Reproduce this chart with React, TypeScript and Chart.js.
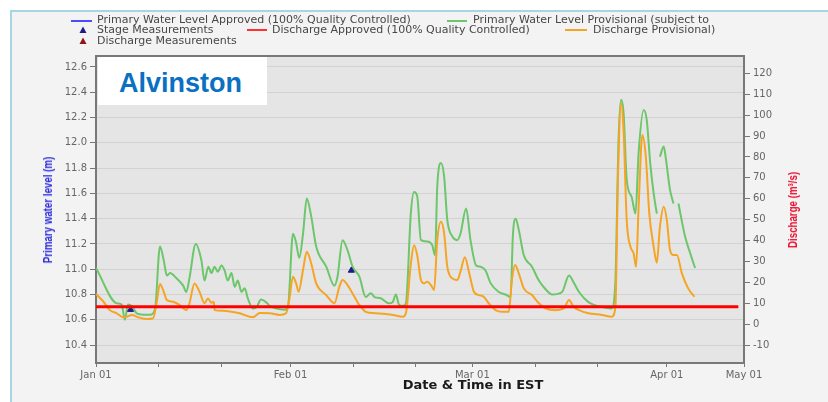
import React, { useEffect, useRef } from "react";
import { Chart, registerables } from "chart.js";

Chart.register(...registerables);

// Days since Jan 01 (leap year) and primary water level (m)
const levelDays = [
  0, 3.3, 4.1, 4.6, 5.1, 5.7, 6.5, 7.5, 8.6, 9.4, 10.2, 10.8, 11.3, 11.8, 12.8, 13.9, 14.4, 14.9, 15.9, 16.8,
  17.3, 17.9, 18.4, 18.9, 19.4, 20.0, 20.5, 21.0, 21.6, 22.1, 22.6, 23.2, 23.7, 24.2, 25.0, 25.6, 26.3, 27.1,
  27.7, 28.7, 30.1, 30.6, 31.4, 31.9, 32.4, 33.0, 33.6, 34.3, 35.1, 36.7, 38.0, 38.5, 39.3, 40.1, 40.9, 42.0,
  43.0, 43.8, 44.4, 45.4, 46.7, 47.3, 47.8, 48.3, 48.9, 49.4, 50.2, 50.7, 51.2, 51.8, 52.8, 53.6, 54.05, 54.4,
  55.0, 55.5, 56.0, 56.8, 57.6, 58.1, 59.0, 59.7, 60.6, 61.3, 62.1, 62.9, 64.2, 65.3, 66.1, 66.45, 66.9, 67.4,
  68.2, 69.5, 70.6, 71.7, 72.7, 74.3, 75.4, 76.2, 77.0, 78.5, 80.7, 82.2, 82.8, 83.3, 83.7, 84.1, 84.6, 85.4,
  86.0, 86.5, 87.3, 87.8, 88.35, 88.9, 89.4, 89.7, 89.9, 90.5, 90.8, 91.5, 92.05, 92.4, 92.85, 93.9, 94.7, 95.5,
];
const levelValues = [
  11.01, 10.73, 10.72, 10.6, 10.72, 10.71, 10.65, 10.64, 10.64, 10.68, 11.18, 11.07, 10.95, 10.97, 10.93, 10.87, 10.82, 10.93, 11.2, 11.07,
  10.91, 11.02, 10.97, 11.02, 10.98, 11.03, 10.99, 10.91, 10.97, 10.86, 10.91, 10.82, 10.85, 10.77, 10.69, 10.7, 10.76, 10.74,
  10.71, 10.69, 10.68, 10.7, 11.28, 11.21, 11.09, 11.28, 11.56, 11.42, 11.18, 11.02, 10.87, 10.94, 11.23, 11.15, 11.02, 10.94,
  10.78, 10.81, 10.78, 10.77, 10.73, 10.74, 10.8, 10.72, 10.71, 10.73, 11.45, 11.61, 11.58, 11.23, 11.22, 11.19, 11.11, 11.65,
  11.84, 11.73, 11.39, 11.26, 11.23, 11.28, 11.48, 11.23, 11.03, 11.02, 10.99, 10.89, 10.82, 10.8, 10.78, 11.26, 11.4, 11.31,
  11.11, 11.02, 10.91, 10.84, 10.8, 10.82, 10.95, 10.89, 10.82, 10.74, 10.7, 10.69, 10.91, 12.02, 12.34, 12.24, 11.71, 11.57,
  11.44, 11.92, 12.26, 12.18, 11.84, 11.6, 11.44, null, 11.89, 11.97, 11.89, 11.63, 11.52, null, 11.52, 11.26, 11.13, 11.01,
];

// Days since Jan 01 and discharge (m³/s)
const flowDays = [
  0, 1.2, 2.2, 3.3, 4.3, 4.9, 5.7, 6.7, 8.1, 9.1, 9.65, 10.2, 10.8, 11.3, 12.3, 13.35, 14.4, 14.9, 15.7, 16.5,
  17.3, 17.85, 18.4, 18.76, 18.92, 20.2, 22.9, 25.0, 26.1, 27.7, 29.25, 30.3, 30.8, 31.4, 31.9, 32.3, 33.0, 33.6,
  34.3, 35.1, 36.7, 38.0, 38.8, 39.3, 40.1, 40.9, 42.0, 43.0, 44.6, 47.3, 48.9, 49.4, 50.2, 50.7, 51.2, 51.8,
  52.3, 52.8, 53.4, 53.9, 54.4, 55.0, 55.5, 56.0, 56.8, 57.6, 58.1, 58.8, 59.5, 60.25, 61.05, 61.8, 62.6, 63.7,
  64.75, 65.8, 66.3, 66.8, 67.4, 68.2, 69.5, 70.6, 71.65, 73.2, 74.6, 75.4, 76.15, 77.0, 78.5, 80.65, 82.2, 82.8,
  83.2, 83.7, 84.1, 84.6, 85.2, 85.7, 86.1, 86.5, 87.1, 87.65, 88.2, 88.9, 89.4, 89.9, 90.5, 91.0, 91.5, 92.05,
  92.6, 93.4, 94.4, 95.4,
];
const flowValues = [
  14.4, 10.7, 6.7, 5.2, 3.3, 3.5, 4.4, 3.3, 2.4, 2.8, 10.0, 19.2, 15.5, 11.5, 10.7, 9.1, 6.7, 10.0, 19.5, 15.5,
  10.0, 12.3, 10.2, 10.7, 6.7, 6.4, 5.2, 3.3, 5.3, 5.2, 4.4, 5.2, 11.5, 22.7, 19.5, 15.5, 25.9, 34.6,
  29.1, 19.5, 13.9, 10.0, 17.9, 21.1, 18.7, 14.7, 9.1, 5.9, 5.2, 4.4, 3.5, 5.2, 29.1, 37.8, 33.1, 21.1,
  19.5, 20.3, 18.7, 16.3, 40.2, 49.0, 43.4, 27.5, 21.9, 21.1, 25.1, 32.0, 24.3, 15.5, 13.9, 13.1, 10.0, 6.7,
  5.9, 5.9, 21.1, 28.3, 24.3, 17.1, 13.9, 10.0, 7.6, 6.7, 7.6, 11.5, 8.3, 6.7, 5.2, 4.4, 3.5, 8.3,
  68.9, 105.6, 92.9, 49.8, 37.0, 33.9, 27.5, 56.2, 90.5, 80.1, 53.0, 37.0, 29.4, 46.6, 56.2, 49.8, 35.5, 33.1,
  33.1, 24.3, 17.1, 13.1,
];

// Stage measurements (water level, m)
const stageDays = [5.5, 40.7];
const stageValues = [10.68, 10.99];

// Red reference line (discharge, m³/s)
const thresholdDays = [0, 102.4];
const thresholdValues = [8.3, 8.3];

const levelTicks = [10.4, 10.6, 10.8, 11.0, 11.2, 11.4, 11.6, 11.8, 12.0, 12.2, 12.4, 12.6];
const flowTicks = [-10, 0, 10, 20, 30, 40, 50, 60, 70, 80, 90, 100, 110, 120];
const dateTickDays = [0, 10, 20, 31, 41, 51, 60, 70, 80, 91, 103.3];
const dateTickLabels = ["Jan 01", "", "", "Feb 01", "", "", "Mar 01", "", "", "Apr 01", "May 01"];

const legendRow1 = ["Primary Water Level Approved (100% Quality Controlled)", "Primary Water Level Provisional (subject to"];
const legendRow2 = ["Stage Measurements", "Discharge Approved (100% Quality Controlled)", "Discharge Provisional)"];
const legendRow3 = ["Discharge Measurements"];

const GREEN = "#6cc66a";
const ORANGE = "#f6a423";
const TICK_FONT = { family: "'DejaVu Sans', sans-serif", size: 10 };

const plotFrame = {
  id: "plotFrame",
  beforeDraw(chart: any) {
    const { ctx, chartArea: a } = chart;
    ctx.save();
    ctx.fillStyle = "#e5e5e5";
    ctx.fillRect(a.left, a.top, a.right - a.left, a.bottom - a.top);
    ctx.restore();
  },
  beforeDatasetsDraw(chart: any) {
    const { ctx, chartArea: a } = chart;
    ctx.save();
    ctx.strokeStyle = "#787878";
    ctx.lineWidth = 2;
    ctx.strokeRect(a.left, a.top, a.right - a.left, a.bottom - a.top);
    ctx.restore();
  },
};

function Tri({ x, y, color }: { x: number; y: number; color: string }) {
  return (
    <svg style={{ position: "absolute", left: x - 4, top: y - 4 }} width={8} height={8}>
      <polygon points="4,0.5 7.5,7 0.5,7" fill={color} />
    </svg>
  );
}

function LegLine({ x, y, w, color }: { x: number; y: number; w: number; color: string }) {
  return <div style={{ position: "absolute", left: x, top: y - 1, width: w, height: 2, background: color }} />;
}

function LegText({ x, y, text }: { x: number; y: number; text: string }) {
  return (
    <div
      style={{
        position: "absolute",
        left: x,
        top: y - 6,
        lineHeight: "12px",
        fontFamily: "'DejaVu Sans', sans-serif",
        fontSize: 11,
        color: "#474747",
        whiteSpace: "nowrap",
      }}
    >
      {text}
    </div>
  );
}

const axisTitleStyle = (cx: number, color: string): React.CSSProperties => ({
  position: "absolute",
  left: cx,
  top: 210,
  transform: "translate(-50%, -50%) rotate(-90deg) scaleX(0.81)",
  fontFamily: "'Liberation Sans', Arial, sans-serif",
  fontWeight: "bold",
  fontSize: 12,
  color,
  whiteSpace: "nowrap",
});

export default function App() {
  const ref = useRef<HTMLCanvasElement | null>(null);

  useEffect(() => {
    if (!ref.current) return;
    const chart = new Chart(ref.current, {
      type: "line",
      data: {
        datasets: [
          {
            label: "Reference",
            data: thresholdDays.map((d, i) => ({ x: d, y: thresholdValues[i] })),
            yAxisID: "y2",
            borderColor: "#ff0000",
            borderWidth: 3,
            pointRadius: 0,
            order: 0,
          },
          {
            label: "Stage Measurements",
            data: stageDays.map((d, i) => ({ x: d, y: stageValues[i] })),
            yAxisID: "y",
            showLine: false,
            pointStyle: "triangle",
            pointRadius: 3.5,
            backgroundColor: "#1c1c8a",
            borderColor: "#1c1c8a",
            order: 1,
          },
          {
            label: "Discharge Provisional",
            data: flowDays.map((d, i) => ({ x: d, y: flowValues[i] })),
            yAxisID: "y2",
            borderColor: ORANGE,
            borderWidth: 2,
            pointRadius: 0,
            cubicInterpolationMode: "monotone",
            order: 2,
          },
          {
            label: "Primary Water Level Provisional",
            data: levelDays.map((d, i) => ({ x: d, y: levelValues[i] as any })),
            yAxisID: "y",
            borderColor: GREEN,
            borderWidth: 2,
            pointRadius: 0,
            spanGaps: false,
            cubicInterpolationMode: "monotone",
            order: 3,
          },
        ],
      },
      options: {
        animation: false,
        responsive: false,
        devicePixelRatio: 1,
        layout: { padding: { top: 56, left: 0, right: 0, bottom: 0 } },
        plugins: { legend: { display: false }, tooltip: { enabled: false }, title: { display: false } },
        scales: {
          x: {
            type: "linear",
            min: 0,
            max: 103.3,
            afterBuildTicks: (s: any) => {
              s.ticks = dateTickDays.map((v) => ({ value: v }));
            },
            afterFit: (s: any) => {
              s.height = 39;
            },
            grid: { drawOnChartArea: false, drawTicks: true, tickLength: 4, tickColor: "#777" },
            border: { display: false },
            ticks: {
              autoSkip: false,
              maxRotation: 0,
              padding: 2,
              color: "#666",
              font: TICK_FONT,
              callback: (_v: any, i: number) => dateTickLabels[i],
            },
          },
          y: {
            type: "linear",
            position: "left",
            min: 10.258,
            max: 12.687,
            afterBuildTicks: (s: any) => {
              s.ticks = levelTicks.map((v) => ({ value: v }));
            },
            afterFit: (s: any) => {
              s.width = 96;
            },
            grid: { color: "#d2d2d2", lineWidth: 1, tickColor: "#777", tickLength: 6 },
            border: { display: false },
            ticks: { padding: 3, color: "#666", font: TICK_FONT, callback: (v: any) => Number(v).toFixed(1) },
          },
          y2: {
            type: "linear",
            position: "right",
            min: -18.6,
            max: 128.3,
            afterBuildTicks: (s: any) => {
              s.ticks = flowTicks.map((v) => ({ value: v }));
            },
            afterFit: (s: any) => {
              s.width = 84;
            },
            grid: { drawOnChartArea: false, tickColor: "#777", tickLength: 6 },
            border: { display: false },
            ticks: { padding: 3, color: "#666", font: TICK_FONT, callback: (v: any) => String(v) },
          },
        },
      },
      plugins: [plotFrame],
    } as any);
    return () => chart.destroy();
  }, []);

  return (
    <div style={{ position: "fixed", left: 0, top: 0, width: 828, height: 402, background: "#ffffff", overflow: "hidden" }}>
      <div
        style={{
          position: "absolute",
          left: 10,
          top: 10,
          right: 0,
          bottom: 0,
          borderLeft: "2px solid #a6d6e6",
          borderTop: "2px solid #a6d6e6",
          background: "#f3f3f3",
        }}
      />
      <canvas ref={ref} width={828} height={402} style={{ position: "absolute", left: 0, top: 0, width: 828, height: 402 }} />

      {/* Legend */}
      <LegLine x={71} y={20.5} w={21} color="#4b4bff" />
      <LegText x={97} y={20} text={legendRow1[0]} />
      <LegLine x={447} y={20.5} w={20} color={GREEN} />
      <LegText x={473} y={20} text={legendRow1[1]} />

      <Tri x={83} y={30} color="#1c1c8a" />
      <LegText x={97} y={30} text={legendRow2[0]} />
      <LegLine x={247} y={30} w={20} color="#ff3030" />
      <LegText x={272} y={30} text={legendRow2[1]} />
      <LegLine x={565} y={30} w={22} color={ORANGE} />
      <LegText x={593} y={30} text={legendRow2[2]} />

      <Tri x={83} y={41} color="#8e1616" />
      <LegText x={97} y={41} text={legendRow3[0]} />

      {/* Station label */}
      <div style={{ position: "absolute", left: 98, top: 57, width: 169, height: 48, background: "#ffffff" }} />
      <div
        style={{
          position: "absolute",
          left: 119,
          top: 70,
          fontFamily: "'Liberation Sans', Arial, sans-serif",
          fontWeight: "bold",
          fontSize: 27,
          lineHeight: 1,
          color: "#0a70c2",
          whiteSpace: "nowrap",
        }}
      >
        Alvinston
      </div>

      {/* Axis titles */}
      <div style={axisTitleStyle(48, "#2b2bdc")}>Primary water level (m)</div>
      <div style={axisTitleStyle(793, "#ea1030")}>Discharge (m³/s)</div>
      <div
        style={{
          position: "absolute",
          left: 473,
          top: 384,
          transform: "translate(-50%, -50%)",
          fontFamily: "'DejaVu Sans', sans-serif",
          fontWeight: "bold",
          fontSize: 13,
          color: "#1a1a1a",
          whiteSpace: "nowrap",
        }}
      >
        Date &amp; Time in EST
      </div>
    </div>
  );
}
